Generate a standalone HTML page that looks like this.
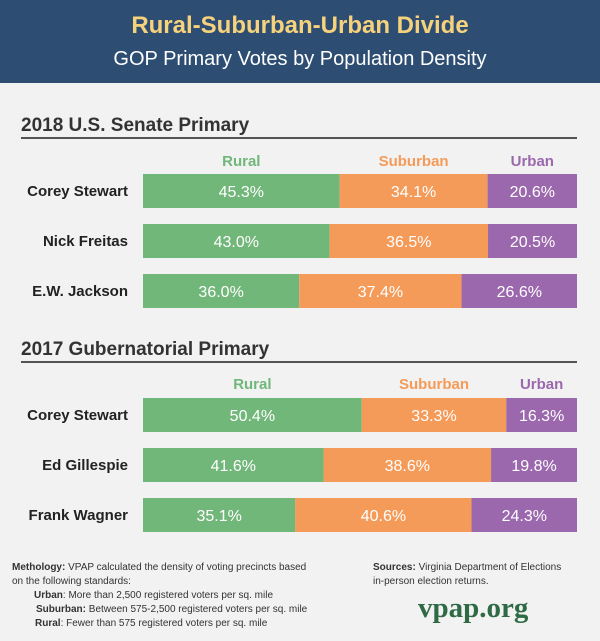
<!DOCTYPE html>
<html><head><meta charset="utf-8"><style>
body{margin:0;width:600px;height:641px;background:#f1f2f1;font-family:"Liberation Sans",sans-serif;overflow:hidden;position:relative}
.hdr{position:absolute;left:0;top:0;width:600px;height:83px;background:#2d4e72}
.t1{position:absolute;top:12px;width:600px;text-align:center;color:#f7d27c;font-size:24px;font-weight:bold}
.t2{position:absolute;top:48px;width:600px;text-align:center;color:#fff;font-size:20px}
.sec{position:absolute;left:21px;font-size:19px;color:#333;font-weight:bold}
.rule{position:absolute;left:21px;width:556px;height:2px;background:#555}
.foot{position:absolute;font-size:10px;color:#333;line-height:14px;white-space:nowrap}
</style></head><body>
<div class="hdr">
<div class="t1">Rural-Suburban-Urban Divide</div>
<div class="t2">GOP Primary Votes by Population Density</div>
</div>
<div class="sec" style="top:115px">2018 U.S. Senate Primary</div>
<div class="rule" style="top:137px"></div>
<div class="sec" style="top:339px">2017 Gubernatorial Primary</div>
<div class="rule" style="top:361px"></div>
<svg id="chart" width="600" height="641" style="position:absolute;left:0;top:0"></svg>
<div class="foot" style="left:12px;top:561px"><b>Methology:</b> VPAP calculated the density of voting precincts based<br>on the following standards:<br>
<span style="padding-left:22px"><b>Urban</b>: More than 2,500 registered voters per sq. mile</span><br>
<span style="padding-left:24px"><b>Suburban:</b> Between 575-2,500 registered voters per sq. mile</span><br>
<span style="padding-left:23px"><b>Rural</b>: Fewer than 575 registered voters per sq. mile</span></div>
<div class="foot" style="left:373px;top:561px"><b>Sources:</b> Virginia Department of Elections<br>in-person election returns.</div>
<div style="position:absolute;left:418px;top:592px;font-family:'Liberation Serif',serif;font-weight:bold;font-size:29px;color:#2e6b45">vpap.org</div>
<script>
const senateNames=["Corey Stewart","Nick Freitas","E.W. Jackson"];
const senateRural=[45.3,43.0,36.0];
const senateSuburban=[34.1,36.5,37.4];
const senateUrban=[20.6,20.5,26.6];
const govNames=["Corey Stewart","Ed Gillespie","Frank Wagner"];
const govRural=[50.4,41.6,35.1];
const govSuburban=[33.3,38.6,40.6];
const govUrban=[16.3,19.8,24.3];
const categories=["Rural","Suburban","Urban"];
const colors=["#72b77a","#f59b59","#9b67ad"];
const svg=document.getElementById('chart');
const NS="http://www.w3.org/2000/svg";
const X0=143,W=434,BH=34;
const xs=v=>v/100*W;
function mk(tag,a){const e=document.createElementNS(NS,tag);for(const k in a)e.setAttribute(k,a[k]);svg.appendChild(e);return e;}
function draw(names,r,s,u,headY,rowY){
  const series=[r,s,u];
  names.forEach((n,i)=>{
    const y=rowY+i*50;
    const t=mk('text',{x:128,y:y+BH/2+5,'text-anchor':'end','font-size':15,'font-weight':'bold',fill:'#222','font-family':'Liberation Sans'});
    
    
    t.textContent=n;
    let x=X0;
    series.forEach((ser,j)=>{
      const w=xs(ser[i]);
      const rc=mk('rect',{x:x,y:y,width:w,height:BH,fill:colors[j]});
      
      
      const lt=mk('text',{x:x+w/2,y:y+BH/2+6,'text-anchor':'middle','font-size':16,fill:'#fff','font-family':'Liberation Sans'});
      
      
      lt.textContent=ser[i].toFixed(1)+'%';
      if(i===0){
        const h=mk('text',{x:x+w/2,y:headY,'text-anchor':'middle','font-size':15,'font-weight':'bold',fill:colors[j],'font-family':'Liberation Sans'});
        
        
        h.textContent=categories[j];
      }
      x+=w;
    });
  });
}
draw(senateNames,senateRural,senateSuburban,senateUrban,166,174);
draw(govNames,govRural,govSuburban,govUrban,389,398);
</script>
</body></html>
